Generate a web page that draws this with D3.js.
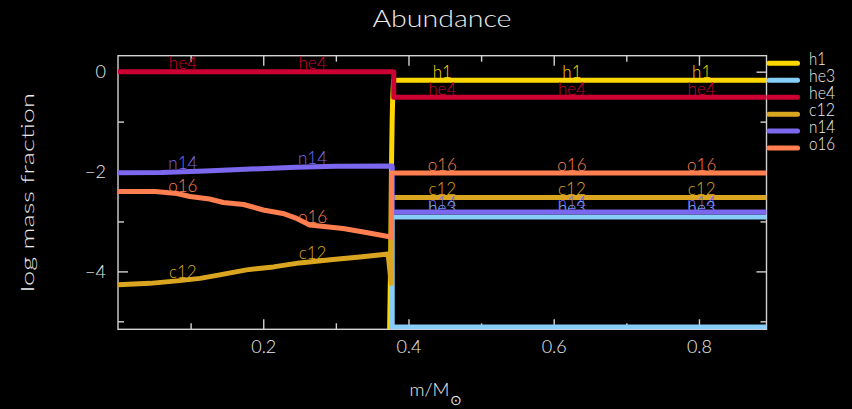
<!DOCTYPE html>
<html>
<head>
<meta charset="utf-8">
<script src="https://cdn.jsdelivr.net/npm/d3@7"></script>
<style>
  html, body { margin: 0; padding: 0; background: #000; }
  svg { display: block; }
  text { font-family: Lato, "DejaVu Sans", sans-serif; font-weight: 300; fill: #ececec; }
</style>
</head>
<body>
<svg id="chart" width="852" height="409"></svg>
<script>
// Log mass fraction profiles against enclosed mass (m / Msun).
const species = ["h1", "he3", "he4", "c12", "n14", "o16"];
const colours = ["#ffd700", "#87cefa", "#cc0033", "#daa520", "#7b68ee", "#ff7f50"];

// Each profile is a list of [m, log X] points; null breaks the line.
const h1 = [[0.893, -0.17], [0.3795, -0.17], [0.3782, -0.55], [0.3775, -1.0], [0.3766, -1.9],
            [0.3756, -3.6], [0.3738, -5.4], [0.372, -8.0]];
const he3 = [[0.893, -2.91], [0.3776, -2.91], [0.3776, -5.4], null,
             [0.3768, -5.115], [0.893, -5.115]];
const he4 = [[0.0, 0.0], [0.3797, 0.0], [0.3797, -0.51], [0.893, -0.51]];
const c12 = [[0.0, -4.27], [0.044, -4.24], [0.081, -4.19], [0.113, -4.14], [0.14, -4.07],
             [0.177, -3.97], [0.214, -3.91], [0.25, -3.83], [0.296, -3.76], [0.333, -3.71],
             [0.372, -3.65], [0.3762, -4.24], [0.3768, -2.52], [0.893, -2.52]];
const n14 = [[0.0, -2.025], [0.06, -2.02], [0.12, -1.99], [0.175, -1.955], [0.245, -1.915],
             [0.3, -1.895], [0.3776, -1.89], [0.3776, -2.81], [0.893, -2.81]];
const o16 = [[0.0, -2.40], [0.051, -2.40], [0.081, -2.44], [0.099, -2.50], [0.126, -2.55],
             [0.145, -2.62], [0.173, -2.66], [0.2, -2.77], [0.227, -2.84], [0.246, -2.94],
             [0.264, -3.07], [0.31, -3.14], [0.338, -3.21], [0.372, -3.30], [0.3766, -3.32],
             [0.3766, -2.03], [0.893, -2.03]];
const profiles = [h1, he3, he4, c12, n14, o16];

const massMax = 0.893;
const logMin = -5.16, logMax = 0.32;
const xMajor = [0.2, 0.4, 0.6, 0.8];
const xMinor = [0.1, 0.3, 0.5, 0.7];
const yMajor = [0, -2, -4];
const yMinor = [-1, -3, -5];
// in-line species labels sit at these fractions of the mass range
const labelFractions = [0.1, 0.3, 0.5, 0.7, 0.9];

const svg = d3.select("#chart");
const frame = { left: 118, right: 766.5, top: 55.7, bottom: 329.3 };
const axisColour = "#d2d2d2";

const x = d3.scaleLinear().domain([0, massMax]).range([frame.left, frame.right]);
const y = d3.scaleLinear().domain([logMin, logMax]).range([frame.bottom, frame.top]);

// title and axis titles
svg.append("text").attr("x", 442).attr("y", 26.7).attr("text-anchor", "middle")
  .attr("font-size", 24).attr("textLength", 139).attr("lengthAdjust", "spacingAndGlyphs")
  .text("Abundance");
svg.append("text").attr("transform", "translate(33.5,192.5) rotate(-90)")
  .attr("text-anchor", "middle").attr("font-size", 17)
  .attr("textLength", 199).attr("lengthAdjust", "spacingAndGlyphs")
  .text("log mass fraction");
svg.append("text").attr("x", 409.5).attr("y", 396).attr("font-size", 18)
  .attr("textLength", 40).attr("lengthAdjust", "spacingAndGlyphs").text("m/M");
svg.append("text").attr("x", 456).attr("y", 405).attr("text-anchor", "middle")
  .attr("font-size", 14).style("font-family", "'DejaVu Sans'").text("\u2299");

// frame with inward ticks on all four sides
svg.append("rect").attr("x", frame.left).attr("y", frame.top)
  .attr("width", frame.right - frame.left).attr("height", frame.bottom - frame.top)
  .attr("fill", "none").attr("stroke", axisColour).attr("stroke-width", 1.4);

function styleAxis(g) {
  g.select(".domain").remove();
  g.attr("font-family", null).attr("font-size", null).style("color", axisColour);
  g.selectAll(".tick line").attr("stroke-width", 1.4);
  g.selectAll(".tick text").attr("font-size", 18);
}
const fmtX = d3.format(".1f");
svg.append("g").attr("transform", `translate(0,${frame.bottom})`)
  .call(d3.axisBottom(x).tickValues(xMajor).tickSizeInner(-10).tickSizeOuter(0)
    .tickPadding(11).tickFormat(fmtX)).call(styleAxis);
svg.append("g").attr("transform", `translate(0,${frame.bottom})`)
  .call(d3.axisBottom(x).tickValues(xMinor).tickSize(-6).tickFormat("")).call(styleAxis);
svg.append("g").attr("transform", `translate(0,${frame.top})`)
  .call(d3.axisTop(x).tickValues(xMajor).tickSize(-10).tickFormat("")).call(styleAxis);
svg.append("g").attr("transform", `translate(0,${frame.top})`)
  .call(d3.axisTop(x).tickValues(xMinor).tickSize(-6).tickFormat("")).call(styleAxis);
svg.append("g").attr("transform", `translate(${frame.left},0)`)
  .call(d3.axisLeft(y).tickValues(yMajor).tickSizeInner(-10).tickSizeOuter(0)
    .tickPadding(12).tickFormat(d3.format("d"))).call(styleAxis);
svg.append("g").attr("transform", `translate(${frame.left},0)`)
  .call(d3.axisLeft(y).tickValues(yMinor).tickSize(-6).tickFormat("")).call(styleAxis);
svg.append("g").attr("transform", `translate(${frame.right},0)`)
  .call(d3.axisRight(y).tickValues(yMajor).tickSize(-10).tickFormat("")).call(styleAxis);
svg.append("g").attr("transform", `translate(${frame.right},0)`)
  .call(d3.axisRight(y).tickValues(yMinor).tickSize(-6).tickFormat("")).call(styleAxis);

// profiles, clipped to the frame
svg.append("clipPath").attr("id", "plot-clip").append("rect")
  .attr("x", frame.left).attr("y", frame.top)
  .attr("width", frame.right - frame.left).attr("height", frame.bottom - frame.top);

const line = d3.line().defined(d => d !== null).x(d => x(d[0])).y(d => y(d[1]));

// value of a profile at mass m, from the first non-vertical segment spanning it
function valueAt(points, m) {
  for (let i = 0; i < points.length - 1; i++) {
    const a = points[i], b = points[i + 1];
    if (!a || !b || a[0] === b[0]) continue;
    const lo = Math.min(a[0], b[0]), hi = Math.max(a[0], b[0]);
    if (m >= lo && m <= hi) return a[1] + (b[1] - a[1]) * (m - a[0]) / (b[0] - a[0]);
  }
  return null;
}

const plot = svg.append("g").attr("clip-path", "url(#plot-clip)");
species.forEach((name, i) => {
  plot.append("path").datum(profiles[i]).attr("d", line)
    .attr("fill", "none").attr("stroke", colours[i]).attr("stroke-width", 5)
    .attr("stroke-linejoin", "round").attr("stroke-linecap", "round");
  labelFractions.forEach(f => {
    const m = f * massMax, v = valueAt(profiles[i], m);
    if (v === null || v < logMin || v > logMax) return;
    plot.append("text").attr("x", x(m)).attr("y", y(v) - 2.5)
      .attr("text-anchor", "middle").attr("font-size", 17)
      .style("fill", colours[i]).text(name);
  });
});

// legend to the right of the frame
const legendY0 = 63.3, legendStep = 16.95;
species.forEach((name, i) => {
  const ly = legendY0 + i * legendStep;
  svg.append("line").attr("x1", 769).attr("x2", 797.5).attr("y1", ly).attr("y2", ly)
    .attr("stroke", colours[i]).attr("stroke-width", 5).attr("stroke-linecap", "round");
  svg.append("text").attr("x", 809).attr("y", ly + 1.8).attr("font-size", 17)
    .attr("textLength", name.length * 9.2 - 1.5).attr("lengthAdjust", "spacingAndGlyphs")
    .text(name);
});
</script>
</body>
</html>
